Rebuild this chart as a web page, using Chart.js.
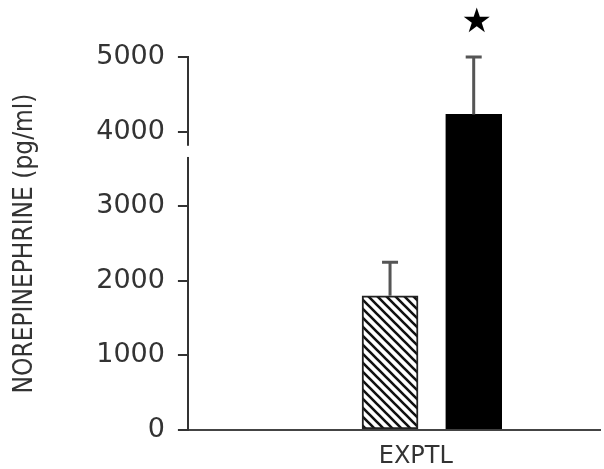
<!DOCTYPE html>
<html>
<head>
<meta charset="utf-8">
<script src="https://cdn.jsdelivr.net/npm/chart.js@4.4.0/dist/chart.umd.min.js"></script>
<style>
  html, body { margin: 0; padding: 0; background: #fff; }
  #wrap { width: 604px; height: 469px; }
</style>
</head>
<body>
<div id="wrap"><canvas id="myChart" width="604" height="469"></canvas></div>
<script>
// data
var categories = ['EXPTL'];
var seriesNames = ['Hatched', 'Solid'];
var means = [1800, 4230];
var upperError = [2250, 5000];
var yTicks = [0, 1000, 2000, 3000, 4000, 5000];

// layout along the x axis (fraction of axis width)
var groupCenter = 0.592;
var barSpacing = 0.203;
var labelCenter = 0.553;

function makeHatch() {
    var s = 9;
    var c = document.createElement('canvas');
    c.width = s; c.height = s;
    var g = c.getContext('2d');
    g.fillStyle = '#fff';
    g.fillRect(0, 0, s, s);
    g.strokeStyle = '#111';
    g.lineWidth = 2.6;
    g.beginPath();
    g.moveTo(-1, -1); g.lineTo(s + 1, s + 1);
    g.moveTo(s - 2, -2); g.lineTo(s + 2, 2);
    g.moveTo(-2, s - 2); g.lineTo(2, s + 2);
    g.stroke();
    return document.getElementById('myChart').getContext('2d').createPattern(c, 'repeat');
}

var barData = [];
for (var i = 0; i < means.length; i++) {
    barData.push({ x: groupCenter + (i - 0.5) * barSpacing, y: means[i] });
}

var extras = {
    id: 'extras',
    afterDatasetsDraw: function (chart) {
        var ctx = chart.ctx;
        var y = chart.scales.y;
        var bars = chart.getDatasetMeta(0).data;
        ctx.save();
        // y axis break
        ctx.fillStyle = '#fff';
        var b1 = y.getPixelForValue(3810), b2 = y.getPixelForValue(3660);
        ctx.fillRect(y.right - 4, b1, 8, b2 - b1);
        // error bars (upper only)
        ctx.strokeStyle = '#555';
        ctx.lineWidth = 3;
        for (var i = 0; i < bars.length; i++) {
            var top = y.getPixelForValue(upperError[i]);
            var base = y.getPixelForValue(means[i]);
            ctx.beginPath();
            ctx.moveTo(bars[i].x, base);
            ctx.lineTo(bars[i].x, top);
            ctx.moveTo(bars[i].x - 8, top);
            ctx.lineTo(bars[i].x + 8, top);
            ctx.stroke();
        }
        // significance star
        ctx.fillStyle = '#000';
        ctx.font = '34px "DejaVu Sans"';
        ctx.textAlign = 'center';
        ctx.textBaseline = 'middle';
        ctx.fillText('\u2605', bars[1].x + 3, y.getPixelForValue(5460));
        ctx.restore();
    }
};

var chart = new Chart(document.getElementById('myChart'), {
    type: 'bar',
    data: {
        datasets: [{
            label: seriesNames.join(' / '),
            data: barData,
            backgroundColor: [makeHatch(), '#000'],
            borderColor: ['#222', '#000'],
            borderWidth: 2,
            borderSkipped: false,
            barThickness: 56
        }]
    },
    options: {
        responsive: false,
        animation: false,
        layout: { padding: { top: 57, right: 4, left: 8, bottom: -15 } },
        plugins: { legend: { display: false }, tooltip: { enabled: false } },
        scales: {
            x: {
                type: 'linear',
                min: 0,
                max: 1,
                offset: false,
                afterBuildTicks: function (scale) {
                    scale.ticks = [{ value: labelCenter }];
                },
                ticks: {
                    padding: 15,
                    color: '#333',
                    font: { family: 'DejaVu Sans', size: 24, lineHeight: 1 },
                    callback: function (v, idx) { return categories[idx]; }
                },
                grid: { display: false, drawTicks: false, tickLength: 0 },
                border: { display: true, color: '#444', width: 2 }
            },
            y: {
                min: 0,
                max: 5000,
                afterBuildTicks: function (scale) {
                    scale.ticks = yTicks.map(function (v) { return { value: v }; });
                },
                ticks: {
                    padding: 13,
                    color: '#333',
                    font: { family: 'DejaVu Sans', size: 27 },
                    callback: function (v) { return String(v); }
                },
                grid: { drawOnChartArea: false, tickLength: 10, color: '#333', lineWidth: 2 },
                border: { display: true, color: '#333', width: 2 },
                title: {
                    display: true,
                    text: 'NOREPINEPHRINE (pg/ml)',
                    color: '#333',
                    font: { family: '"Liberation Sans Narrow", "DejaVu Sans Condensed", sans-serif', size: 26 },
                    padding: { top: 2, bottom: 42 }
                }
            }
        }
    },
    plugins: [extras]
});
</script>
</body>
</html>
